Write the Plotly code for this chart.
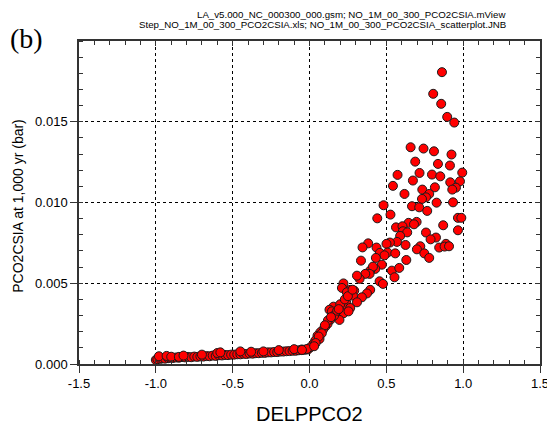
import plotly.graph_objects as go

# Low branch (DELPPCO2 < 0)
x_low = [-1.00, -0.99, -0.97, -0.96, -0.94, -0.92, -0.91, -0.89, -0.87, -0.85,
         -0.83, -0.81, -0.79, -0.77, -0.75, -0.73, -0.71, -0.69, -0.67, -0.65,
         -0.63, -0.61, -0.59, -0.57, -0.55, -0.53, -0.51, -0.49, -0.47, -0.45,
         -0.43, -0.41, -0.39, -0.37, -0.35, -0.33, -0.31, -0.29, -0.27, -0.25,
         -0.23, -0.21, -0.19, -0.17, -0.15, -0.13, -0.11, -0.09, -0.07, -0.05,
         -0.03, -0.01,
         -0.98, -0.93, -0.90, -0.85, -0.82, -0.70, -0.60, -0.58, -0.45, -0.38,
         -0.30, -0.20, -0.10, -0.05]
y_low = [0.00025, 0.00030, 0.00032, 0.00035, 0.00033, 0.00036, 0.00040, 0.00037, 0.00040, 0.00039,
         0.00043, 0.00041, 0.00044, 0.00042, 0.00046, 0.00044, 0.00047, 0.00046, 0.00049, 0.00048,
         0.00052, 0.00050, 0.00054, 0.00053, 0.00056, 0.00055, 0.00058, 0.00058, 0.00060, 0.00060,
         0.00063, 0.00062, 0.00065, 0.00064, 0.00067, 0.00067, 0.00069, 0.00069, 0.00072, 0.00072,
         0.00074, 0.00074, 0.00077, 0.00077, 0.00079, 0.00080, 0.00082, 0.00082, 0.00085, 0.00086,
         0.00088, 0.00090,
         0.00048, 0.00050, 0.00045, 0.00044, 0.00052, 0.00058, 0.00068, 0.00072, 0.00078, 0.00076,
         0.00078, 0.00086, 0.00092, 0.00090]

# High branch (DELPPCO2 > 0)
x_high = [0.862, 0.805, 0.857, 0.896, 0.942, 0.658, 0.742, 0.810, 0.924, 0.688,
          0.836, 0.914, 0.994, 0.573, 0.716, 0.797, 0.851, 0.673, 0.916, 0.979,
          0.543, 0.816, 0.953, 0.929, 0.734, 0.618, 0.779, 0.758, 0.732, 0.482,
          0.667, 0.714, 0.827, 0.934, 0.766, 0.527, 0.441, 0.966, 0.988, 0.645,
          0.697, 0.680, 0.563, 0.605, 0.870, 0.966, 0.608, 0.636, 0.758, 0.590,
          0.823, 0.788, 0.569, 0.523, 0.501, 0.625, 0.382, 0.345, 0.436, 0.721,
          0.699, 0.844, 0.888, 0.879, 0.908, 0.458, 0.508, 0.558, 0.747, 0.488,
          0.335, 0.432, 0.779, 0.630, 0.471, 0.428, 0.536, 0.584, 0.395, 0.553,
          0.413, 0.391, 0.363, 0.326, 0.309, 0.456, 0.478, 0.221, 0.211, 0.265,
          0.291, 0.243, 0.395, 0.374, 0.283, 0.341, 0.309, 0.239, 0.221, 0.156,
          0.130, 0.265, 0.146, 0.174, 0.221, 0.254, 0.195, 0.135, 0.117, 0.102,
          0.087, 0.070, 0.052, 0.065, 0.037, 0.026, 0.005, -0.017, -0.049,
          0.160, 0.180, 0.200, 0.120, 0.100, 0.140, 0.230, 0.250, 0.080, 0.060,
          0.040, 0.030, 0.280, 0.190]
y_high = [0.01807, 0.01673, 0.01611, 0.01530, 0.01495, 0.01342, 0.01334, 0.01317, 0.01297, 0.01253,
          0.01239, 0.01229, 0.01185, 0.01171, 0.01183, 0.01173, 0.01162, 0.01136, 0.01125, 0.01131,
          0.01103, 0.01094, 0.01092, 0.01080, 0.01080, 0.01053, 0.01053, 0.01032, 0.01022, 0.00983,
          0.00977, 0.00970, 0.00999, 0.01001, 0.00948, 0.00925, 0.00902, 0.00905, 0.00905, 0.00874,
          0.00880, 0.00865, 0.00846, 0.00853, 0.00859, 0.00828, 0.00822, 0.00815, 0.00814, 0.00793,
          0.00783, 0.00772, 0.00756, 0.00752, 0.00744, 0.00737, 0.00747, 0.00722, 0.00721, 0.00729,
          0.00710, 0.00721, 0.00744, 0.00727, 0.00729, 0.00688, 0.00690, 0.00685, 0.00685, 0.00673,
          0.00640, 0.00657, 0.00657, 0.00644, 0.00615, 0.00589, 0.00578, 0.00595, 0.00578, 0.00537,
          0.00603, 0.00558, 0.00558, 0.00527, 0.00547, 0.00512, 0.00496, 0.00499, 0.00471, 0.00459,
          0.00454, 0.00444, 0.00459, 0.00437, 0.00423, 0.00413, 0.00382, 0.00382, 0.00355, 0.00355,
          0.00336, 0.00347, 0.00326, 0.00310, 0.00314, 0.00326, 0.00273, 0.00273, 0.00248, 0.00231,
          0.00211, 0.00196, 0.00175, 0.00155, 0.00144, 0.00124, 0.00103, 0.00093, 0.00087,
          0.00300, 0.00330, 0.00370, 0.00270, 0.00240, 0.00290, 0.00400, 0.00420, 0.00190, 0.00170,
          0.00130, 0.00110, 0.00460, 0.00340]

x_all = x_low + x_high
y_all = y_low + y_high

x_ticks = [-1.5, -1.0, -0.5, 0.0, 0.5, 1.0, 1.5]
y_ticks = [0.000, 0.005, 0.010, 0.015]

title_line1 = "LA_v5.000_NC_000300_000.gsm; NO_1M_00_300_PCO2CSIA.mView"
title_line2 = "Step_NO_1M_00_300_PCO2CSIA.xls; NO_1M_00_300_PCO2CSIA_scatterplot.JNB"
panel_label = "(b)"
x_title = "DELPPCO2"
y_title = "PCO2CSIA at 1,000 yr (bar)"

FONT = "Liberation Sans, Arial, sans-serif"
AX = "#333333"
EPS = 1e-6

fig = go.Figure()
fig.add_trace(go.Scatter(
    x=x_all, y=y_all, mode="markers",
    marker=dict(size=9, color="#ff0000", line=dict(color="#1a1a1a", width=1)),
    showlegend=False, hoverinfo="x+y",
))

common_x = dict(range=[-1.5 - EPS, 1.5 + EPS], linecolor=AX, linewidth=1.5,
                zeroline=False, automargin=False)
common_y = dict(range=[0 - 1e-9, 0.02], linecolor=AX, linewidth=1.5,
                zeroline=False, automargin=False)

fig.update_layout(
    width=547, height=426,
    margin=dict(l=79, r=7, t=41, b=62, autoexpand=False),
    paper_bgcolor="white", plot_bgcolor="white",
    font=dict(family=FONT, size=13, color="black"),
    xaxis=dict(
        **common_x,
        tickvals=x_ticks, ticktext=["%.1f" % v for v in x_ticks],
        ticks="outside", ticklen=7, tickwidth=1, tickcolor=AX,
        ticklabeloverflow="allow",
        showgrid=True, gridcolor="black", griddash="dot", gridwidth=1,
        tickfont=dict(size=13, family=FONT),
        minor=dict(dtick=0.1, tick0=-1.5, ticks="inside", ticklen=4, tickcolor=AX, showgrid=False),
    ),
    yaxis=dict(
        **common_y,
        tickvals=y_ticks, ticktext=["%.3f" % v for v in y_ticks],
        ticks="outside", ticklen=7, tickwidth=1, tickcolor=AX,
        showgrid=True, gridcolor="black", griddash="dot", gridwidth=1,
        tickfont=dict(size=13, family=FONT),
        minor=dict(dtick=0.001, tick0=0, ticks="inside", ticklen=4, tickcolor=AX, showgrid=False),
    ),
    xaxis2=dict(
        **common_x, overlaying="x", side="top", showticklabels=False,
        tickvals=x_ticks, ticks="inside", ticklen=5, tickcolor=AX, showgrid=False,
        minor=dict(dtick=0.1, tick0=-1.5, ticks="inside", ticklen=4, tickcolor=AX, showgrid=False),
    ),
    yaxis2=dict(
        **common_y, overlaying="y", side="right", showticklabels=False,
        tickvals=y_ticks, ticks="inside", ticklen=5, tickcolor=AX, showgrid=False,
        minor=dict(dtick=0.001, tick0=0, ticks="inside", ticklen=4, tickcolor=AX, showgrid=False),
    ),
)

# invisible trace to activate the mirror axes
fig.add_trace(go.Scatter(x=[None], y=[None], xaxis="x2", yaxis="y2",
                         showlegend=False, hoverinfo="skip"))

fig.add_annotation(text=title_line1, xref="paper", yref="paper", x=0.9306, y=1.0805,
                   xanchor="right", yanchor="middle", showarrow=False,
                   font=dict(size=9.7, family=FONT, color="black"))
fig.add_annotation(text=title_line2, xref="paper", yref="paper", x=0.9306, y=1.0526,
                   xanchor="right", yanchor="middle", showarrow=False,
                   font=dict(size=9.7, family=FONT, color="black"))
fig.add_annotation(text=panel_label, xref="paper", yref="paper", x=-0.114, y=1.008,
                   xanchor="center", yanchor="middle", showarrow=False,
                   font=dict(size=28, family="Liberation Serif, Times New Roman, serif", color="black"))
fig.add_annotation(text=x_title, xref="paper", yref="paper", x=0.5, y=-0.155,
                   xanchor="center", yanchor="middle", showarrow=False,
                   font=dict(size=20, family=FONT, color="black"))
fig.add_annotation(text=y_title, xref="paper", yref="paper", x=-0.1323, y=0.49,
                   xanchor="center", yanchor="middle", showarrow=False, textangle=-90,
                   font=dict(size=14, family=FONT, color="black"))

fig.write_html("out.html")
